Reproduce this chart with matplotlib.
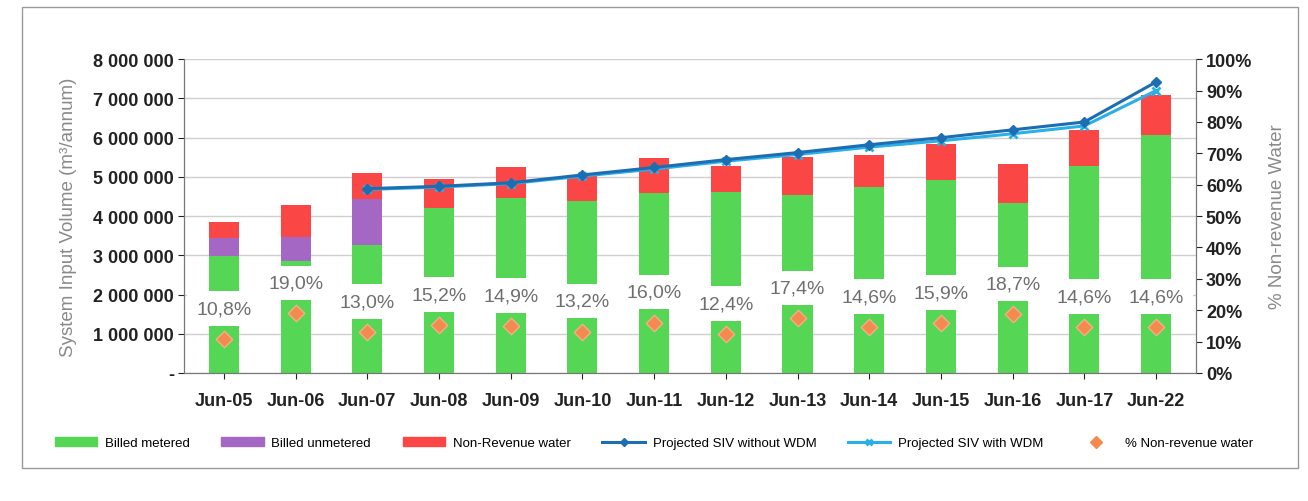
import matplotlib

matplotlib.use("Agg")
import matplotlib.pyplot as plt
import numpy as np
from matplotlib.lines import Line2D
from matplotlib.patches import Patch, Rectangle

# values (m3/annum)
periods = ["Jun-05", "Jun-06", "Jun-07", "Jun-08", "Jun-09", "Jun-10", "Jun-11",
           "Jun-12", "Jun-13", "Jun-14", "Jun-15", "Jun-16", "Jun-17", "Jun-22"]
billed_metered = [2990000, 2850000, 3270000, 4200000, 4460000, 4380000, 4600000,
                  4620000, 4540000, 4750000, 4910000, 4340000, 5290000, 6060000]
billed_unmetered = [450000, 620000, 1160000, 0, 0, 0, 0, 0, 0, 0, 0, 0, 0, 0]
non_revenue = [420000, 810000, 660000, 750000, 780000, 670000, 870000,
               650000, 960000, 810000, 930000, 1000000, 900000, 1040000]
siv_without_wdm = [None, None, 4700000, 4760000, 4850000, 5050000, 5240000,
                   5440000, 5620000, 5820000, 6000000, 6200000, 6400000, 7420000]
siv_with_wdm = [None, None, 4680000, 4740000, 4830000, 5020000, 5200000,
                5400000, 5570000, 5760000, 5920000, 6100000, 6300000, 7200000]
nrw_pct = [10.8, 19.0, 13.0, 15.2, 14.9, 13.2, 16.0, 12.4, 17.4, 14.6, 15.9, 18.7, 14.6, 14.6]

GREEN = "#55d655"
PURPLE = "#a467c4"
RED = "#fb4646"
DARK_BLUE = "#1d6db3"
LIGHT_BLUE = "#2ab0e6"
ORANGE = "#f58a4e"

plt.rcParams["font.family"] = ["Liberation Sans", "DejaVu Sans"]

fig = plt.figure(figsize=(13.08, 5.02), dpi=100)
ax = fig.add_axes([0.141, 0.255, 0.773, 0.625])
ax2 = ax.twinx()

x = np.arange(len(periods))
width = 0.42
metered = np.array(billed_metered, dtype=float)
unmetered = np.array(billed_unmetered, dtype=float)
nrw = np.array(non_revenue, dtype=float)

ax.bar(x, metered, width, color=GREEN, zorder=2)
ax.bar(x, unmetered, width, bottom=metered, color=PURPLE, zorder=2)
ax.bar(x, nrw, width, bottom=metered + unmetered, color=RED, zorder=2)

without = np.array([np.nan if v is None else v for v in siv_without_wdm], dtype=float)
with_wdm = np.array([np.nan if v is None else v for v in siv_with_wdm], dtype=float)
ax.plot(x, with_wdm, color=LIGHT_BLUE, lw=2.2, marker="x", ms=6, mew=2, zorder=3)
ax.plot(x, without, color=DARK_BLUE, lw=2.2, marker="D", ms=5, zorder=4)

ax.set_ylim(0, 8000000)
ax.set_yticks(np.arange(0, 8000001, 1000000))
ax.yaxis.set_major_formatter(lambda v, _: f"{v:,.0f}".replace(",", " ") if v else "-")
ax.set_xlim(-0.55, len(periods) - 0.45)
ax.set_xticks(x, periods)
ax.grid(axis="y", color="#cfcfcf", lw=1, zorder=0)
ax.set_axisbelow(True)
ax.tick_params(axis="both", labelsize=13, colors="#222222", length=4)
ax.tick_params(axis="x", pad=10)
for label in ax.get_xticklabels() + ax.get_yticklabels():
    label.set_fontweight("bold")
ax.set_ylabel("System Input Volume (m³/annum)", fontsize=13.5, color="#8a8a8a", labelpad=12)

ax2.scatter(x, nrw_pct, marker="D", s=70, color=ORANGE, edgecolor="#f3b08a", zorder=5)
for xi, pct in zip(x, nrw_pct):
    ax2.annotate(f"{pct:.1f}%".replace(".", ","), (xi, pct), xytext=(0, 22),
                 textcoords="offset points", ha="center", va="center", fontsize=14,
                 color="#6f6f6f", bbox=dict(boxstyle="square,pad=0.45", fc="white", ec="none"),
                 zorder=6)
ax2.set_ylim(0, 100)
ax2.set_yticks(np.arange(0, 101, 10))
ax2.yaxis.set_major_formatter(lambda v, _: f"{v:.0f}%")
ax2.tick_params(axis="y", labelsize=13, colors="#222222", length=4)
for label in ax2.get_yticklabels():
    label.set_fontweight("bold")
ax2.set_ylabel("% Non-revenue Water", fontsize=13.5, color="#8a8a8a", labelpad=12)

for a in (ax, ax2):
    a.spines["top"].set_visible(False)
    for side in ("left", "right", "bottom"):
        a.spines[side].set_color("#777777")

handles = [
    Patch(color=GREEN, label="Billed metered"),
    Patch(color=PURPLE, label="Billed unmetered"),
    Patch(color=RED, label="Non-Revenue water"),
    Line2D([], [], color=DARK_BLUE, lw=2.2, marker="D", ms=4, label="Projected SIV without WDM"),
    Line2D([], [], color=LIGHT_BLUE, lw=2.2, marker="x", ms=5, mew=2, label="Projected SIV with WDM"),
    Line2D([], [], color=ORANGE, lw=0, marker="D", ms=6, label="% Non-revenue water"),
]
fig.legend(handles=handles, loc="center", bbox_to_anchor=(0.50, 0.115), ncol=6, frameon=False,
           fontsize=9.5, handlelength=3.2, handleheight=0.6, handletextpad=0.6, columnspacing=2.4)

fig.patches.append(Rectangle((0.017, 0.065), 0.975, 0.92, transform=fig.transFigure,
                             fill=False, ec="#9a9a9a", lw=1))

fig.savefig("out.png", dpi=100)
